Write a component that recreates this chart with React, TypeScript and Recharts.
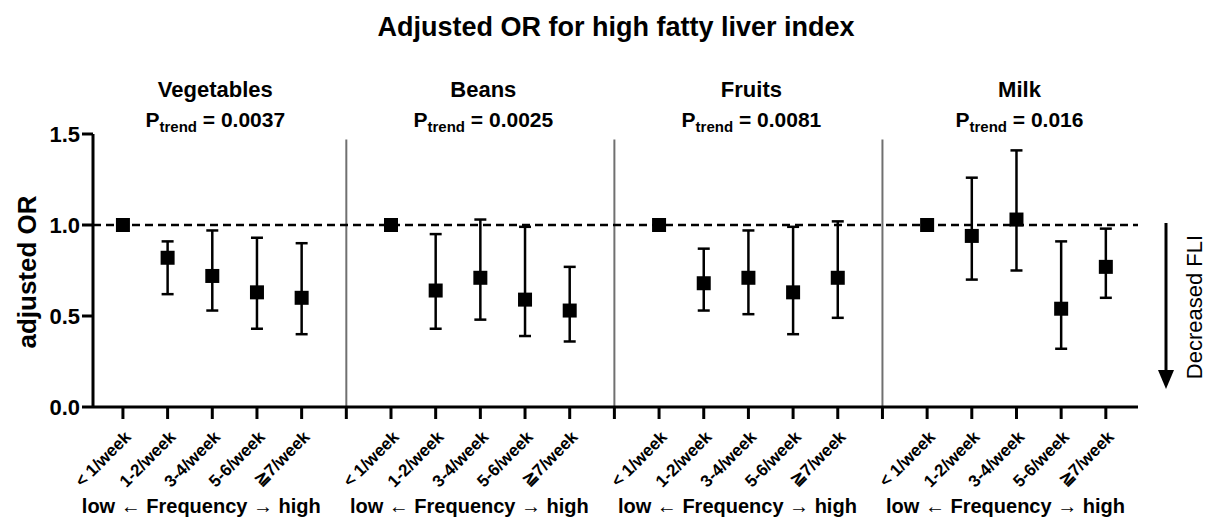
import React from 'react';
import { ScatterChart, Scatter, XAxis, YAxis, ErrorBar, ReferenceLine } from 'recharts';

// labels
const chartTitle = 'Adjusted OR for high fatty liver index';
const foods = ['Vegetables', 'Beans', 'Fruits', 'Milk'];
const pTrends = ['0.0037', '0.0025', '0.0081', '0.016'];
const frequencies = ['< 1/week', '1-2/week', '3-4/week', '5-6/week', '≧7/week'];
const yTicks = [0, 0.5, 1.0, 1.5];

// adjusted OR with lower / upper CI, one entry per frequency
const vegetablesOR = [1.0, 0.82, 0.72, 0.63, 0.6];
const vegetablesLow = [1.0, 0.62, 0.53, 0.43, 0.4];
const vegetablesHigh = [1.0, 0.91, 0.97, 0.93, 0.9];

const beansOR = [1.0, 0.64, 0.71, 0.59, 0.53];
const beansLow = [1.0, 0.43, 0.48, 0.39, 0.36];
const beansHigh = [1.0, 0.95, 1.03, 0.99, 0.77];

const fruitsOR = [1.0, 0.68, 0.71, 0.63, 0.71];
const fruitsLow = [1.0, 0.53, 0.51, 0.4, 0.49];
const fruitsHigh = [1.0, 0.87, 0.97, 0.99, 1.02];

const milkOR = [1.0, 0.94, 1.03, 0.54, 0.77];
const milkLow = [1.0, 0.7, 0.75, 0.32, 0.6];
const milkHigh = [1.0, 1.26, 1.41, 0.91, 0.98];

const orByFood = [vegetablesOR, beansOR, fruitsOR, milkOR];
const lowByFood = [vegetablesLow, beansLow, fruitsLow, milkLow];
const highByFood = [vegetablesHigh, beansHigh, fruitsHigh, milkHigh];

const SLOT = frequencies.length + 1; // one empty slot between panels
const X_DOMAIN: [number, number] = [-0.67, 22.72];
const PLOT_LEFT = 93;
const PLOT_RIGHT = 1138;
const FONT = '"Liberation Sans", Arial, Helvetica, sans-serif';

const points = foods.flatMap((_, fi) =>
  frequencies.map((_, qi) => {
    const or = orByFood[fi][qi];
    return {
      x: fi * SLOT + qi,
      or,
      err: [or - lowByFood[fi][qi], highByFood[fi][qi] - or],
    };
  })
);

const xTicks = Array.from({ length: foods.length * SLOT - 1 }, (_, i) => i);
const separators = foods.slice(1).map((_, i) => (i + 1) * SLOT - 1);

// x position of a slot, used only to centre the panel captions
const slotX = (v: number) =>
  PLOT_LEFT + ((v - X_DOMAIN[0]) / (X_DOMAIN[1] - X_DOMAIN[0])) * (PLOT_RIGHT - PLOT_LEFT);

const FreqTick = (props: any) => {
  const { x, y, payload } = props;
  const i = payload.value as number;
  const label = i % SLOT === SLOT - 1 ? '' : frequencies[i % SLOT];
  return (
    <g transform={`translate(${x + 9},${y + 17}) rotate(-45)`}>
      <text textAnchor="end" fontSize={17} fontWeight="bold" fontFamily={FONT} fill="#000">
        {label}
      </text>
    </g>
  );
};

const SquareDot = (props: any) => {
  const { cx, cy } = props;
  return <rect x={cx - 7} y={cy - 7} width={14} height={14} fill="#000" />;
};

export default function App() {
  return (
    <div style={{ position: 'absolute', left: 0, top: 0, width: 1209, height: 523, background: '#fff' }}>
      <ScatterChart
        width={1209}
        height={523}
        margin={{ top: 134, right: 71, bottom: 56, left: 33 }}
      >
        <XAxis
          type="number"
          dataKey="x"
          domain={X_DOMAIN}
          ticks={xTicks}
          interval={0}
          allowDataOverflow
          height={60}
          tickSize={12}
          axisLine={{ stroke: '#000', strokeWidth: 3 }}
          tickLine={{ stroke: '#000', strokeWidth: 3 }}
          tick={<FreqTick />}
        />
        <YAxis
          type="number"
          dataKey="or"
          domain={[0, 1.5]}
          ticks={yTicks}
          interval={0}
          width={60}
          tickSize={11}
          tickFormatter={(v: number) => v.toFixed(1)}
          axisLine={{ stroke: '#000', strokeWidth: 3 }}
          tickLine={{ stroke: '#000', strokeWidth: 3 }}
          tick={{ fontSize: 22, fontWeight: 'bold', fill: '#000', fontFamily: FONT }}
        />
        {separators.map((s) => (
          <ReferenceLine
            key={s}
            segment={[{ x: s, y: 0 }, { x: s, y: 1.47 }]}
            stroke="#707070"
            strokeWidth={2}
          />
        ))}
        <ReferenceLine y={1} stroke="#000" strokeWidth={2.5} strokeDasharray="8 5" />
        <Scatter data={points} shape={<SquareDot />} isAnimationActive={false}>
          <ErrorBar dataKey="err" direction="y" width={6} stroke="#000" strokeWidth={2.5} />
        </Scatter>
      </ScatterChart>

      <svg
        width={1209}
        height={523}
        style={{ position: 'absolute', left: 0, top: 0, pointerEvents: 'none' }}
        fontFamily={FONT}
      >
        <text x={616} y={36} textAnchor="middle" fontSize={27} fontWeight="bold">
          {chartTitle}
        </text>
        {foods.map((f, fi) => {
          const cx = slotX(fi * SLOT + 2) + 3;
          return (
            <g key={f}>
              <text x={cx} y={97} textAnchor="middle" fontSize={22} fontWeight="bold">
                {f}
              </text>
              <text x={cx} y={127} textAnchor="middle" fontSize={21} fontWeight="bold">
                P
                <tspan fontSize={15} dy={5}>trend</tspan>
                <tspan dy={-5}>{` = ${pTrends[fi]}`}</tspan>
              </text>
              <text x={cx - 14} y={513} textAnchor="middle" fontSize={20} fontWeight="bold">
                low ← Frequency → high
              </text>
            </g>
          );
        })}
        <text
          x={36}
          y={272}
          transform="rotate(-90 36 272)"
          textAnchor="middle"
          fontSize={26}
          fontWeight="bold"
        >
          adjusted OR
        </text>
        <line x1={1166} y1={223} x2={1166} y2={372} stroke="#000" strokeWidth={3} />
        <polygon points="1158,370 1174,370 1166,389" fill="#000" />
        <text x={1202} y={307} transform="rotate(-90 1202 307)" textAnchor="middle" fontSize={22}>
          Decreased FLI
        </text>
      </svg>
    </div>
  );
}
